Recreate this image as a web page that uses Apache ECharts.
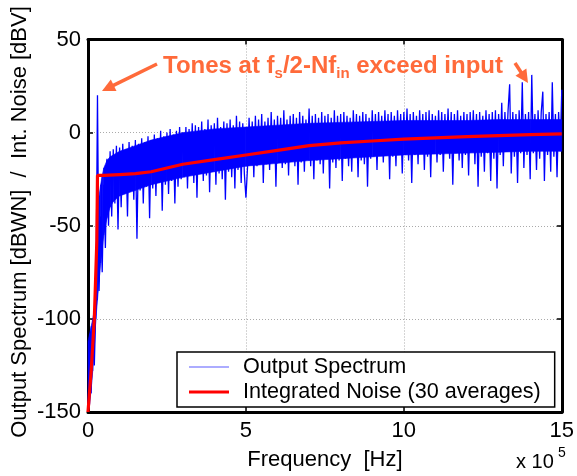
<!DOCTYPE html>
<html><head><meta charset="utf-8">
<script src="https://cdn.jsdelivr.net/npm/echarts@6/dist/echarts.min.js"></script>
<style>html,body{margin:0;padding:0;background:#fff}#c{width:577px;height:476px}</style>
</head><body><div id="c"></div>
<script>
// ---- data (x in units of 1e5 Hz) ----
const binWidth = 0.05; // FFT bin spacing, x10^5 Hz
const spectrumDb = [
  -150, -118, -140, -105, -125, -92, 20, -85, -45, -75, -28, -62, -14, -50, -10, -45, -9, -38, -7, -52, -8,
  -40, -6, -33, -9, -45, -5, -30, -7, -36, -4, -57, -6, -31, -3, -38, -5, -29, -2, -46, -4,
  -30, -1, -34, -3, -27, 1, -42, -2, -28, 0, -33, 2, -26, -1, -38, 1, -29, 3, -25, 0,
  -24, 3, -30, 2, -22, 5, -27, 4, -35, 3, -21, 6, -26, 2, -23, 7, -32, 4, -20, 5,
  -28, 8, -22, 3, -25, 6, -36, 5, -21, 7, -24, 4, -30, 9, -20, 6, -27, 5, -22, -35,
  -19, 8, -16, 6, -24, 9, -18, 7, -15, 10, -27, 6, -17, 8, -20, 11, -16, 7, -29, 9,
  -14, 8, -19, 12, -17, 7, -23, 9, -15, 10, -18, 8, -28, 11, -16, 9, -21, 7, -14, 13,
  -18, 9, -25, 10, -15, 8, -17, 11, -22, 9, -14, 10, -30, 8, -16, 12, -19, 9, -15, 10,
  -26, 11, -14, 9, -18, 8, -21, 12, -13, 10, -24, 9, -15, 11, -17, 10, -29, 8, -14, 12,
  -13, 10, -20, 11, -12, 9, -16, 12, -11, 10, -25, 11, -13, 9, -18, 12, -11, 10, -22, 11,
  -12, 13, -15, 10, -27, 11, -12, 9, -17, 12, -11, 10, -20, 11, -13, 12, -24, 10, -11, 9,
  -16, 12, -12, 11, -21, 10, -10, 13, -14, 11, -28, 10, -11, 12, -15, 9, -19, 11, -12, 10,
  -23, 11, -10, 12, -17, 10, -29, 11, -13, 9, -21, 12, -11, 10, -26, 11, -14, 12, -30, 10,
  -12, 16, -18, 11, -10, 12, 26, -22, 11, -13, 10, -27, 12, -11, 27, -19, 10, -12, 11, -25,
  31, -11, 10, -20, 12, -14, 11, 22, -26, 10, -12, 11, -21, 27, -13, 10, -24, 11, -10, 23
];
// dense body of the noise band (where the FFT bins overlap into a solid band)
const bandFreq   = [0, 0.05, 0.1, 0.15, 0.2, 0.25, 0.3, 0.35, 0.4, 0.45, 0.5, 0.6, 0.7, 0.8, 1.0, 1.5, 2.0, 2.5, 3.0, 4.0, 5.0, 6.0, 7.0, 8.0, 9.0, 10.0, 11.0, 12.0, 13.0, 14.0, 15.0];
const bandTop    = [-112, -108, -104, -100, -95, -88, -60, -34, -28, -23, -19, -15, -13, -12, -10, -7, -4, -2, 0, 2, 3, 4, 5, 5.5, 6, 6.5, 6.5, 6.5, 7, 7, 7];
const bandBottom = [-150, -146, -138, -128, -115, -100, -90, -80, -70, -62, -55, -46, -40, -37, -34, -31, -28, -26, -24, -21, -18, -16.5, -15, -14, -13, -12, -11.5, -11, -10.5, -10, -10];
const integFreq = [0, 0.1, 0.2, 0.28, 0.3, 0.5, 1.0, 1.5, 2.0, 2.5, 3.0, 4.0, 5.0, 6.0, 7.0, 8.0, 9.0, 10.0, 11.0, 12.0, 13.0, 14.0, 15.0];
const integDb   = [-150, -128, -100, -58, -23, -23, -22.5, -22, -21, -19, -17, -14.5, -12, -9.5, -7, -5.5, -4.5, -3.5, -2.8, -2.2, -1.6, -1.1, -0.7];
const xTickLabels = ['0', '5', '10', '15'];
const yTickLabels = ['-150', '-100', '-50', '0', '50'];
const seriesNames = ['Output Spectrum', 'Integrated Noise (30 averages)'];

// ---- chart ----
const FONT = 'Liberation Sans, Arial, sans-serif';
const ORANGE = '#ff6a3a';
const BLUE = '#0000ff';
const chart = echarts.init(document.getElementById('c'), null, {renderer: 'canvas'});

const specData = spectrumDb.map((v, i) => [i * binWidth, v]);
const bandSegs = [];
for (let i = 0; i + 1 < bandFreq.length; i++) {
  bandSegs.push([bandFreq[i], bandTop[i], bandBottom[i], bandFreq[i + 1], bandTop[i + 1], bandBottom[i + 1]]);
}
const integData = integFreq.map((f, i) => [f, integDb[i]]);

function arrow(x1, y1, x2, y2) {
  const dx = x2 - x1, dy = y2 - y1, L = Math.hypot(dx, dy);
  const ux = dx / L, uy = dy / L, hl = 13, hw = 6.5;
  const bx = x2 - ux * hl, by = y2 - uy * hl;
  return [
    {type: 'line', shape: {x1, y1, x2: bx + ux * 2, y2: by + uy * 2}, style: {stroke: ORANGE, lineWidth: 3.5}, z: 100},
    {type: 'polygon', shape: {points: [[x2, y2], [bx - uy * hw, by + ux * hw], [bx + uy * hw, by - ux * hw]]}, style: {fill: ORANGE}, z: 100}
  ];
}

const axisCommon = {
  type: 'value', min: 0, max: 15, interval: 5,
  axisLine: {show: true, onZero: false, lineStyle: {color: '#000', width: 3}},
  axisTick: {show: true, inside: true, length: 5, lineStyle: {color: '#000', width: 1.5}},
};

chart.setOption({
  animation: false,
  backgroundColor: '#fff',
  grid: {left: 88, right: 13.5, top: 39.5, bottom: 63.5, containLabel: false},
  xAxis: [
    Object.assign({}, axisCommon, {
      position: 'bottom',
      axisLabel: {show: true, fontSize: 22, fontFamily: FONT, color: '#000', margin: 8,
        formatter: v => xTickLabels[Math.round(v / 5)]},
      splitLine: {show: true, lineStyle: {color: '#aaa', type: [1, 2], width: 1}},
      name: 'Frequency  [Hz]', nameLocation: 'middle', nameGap: 37,
      nameTextStyle: {fontSize: 22, fontFamily: FONT, color: '#000'}
    }),
    Object.assign({}, axisCommon, {position: 'top', axisLabel: {show: false}, splitLine: {show: false}})
  ],
  yAxis: [
    Object.assign({}, axisCommon, {
      min: -150, max: 50, interval: 50, position: 'left',
      axisLabel: {show: true, fontSize: 22, fontFamily: FONT, color: '#000', margin: 7,
        formatter: v => yTickLabels[Math.round((v + 150) / 50)]},
      splitLine: {show: true, lineStyle: {color: '#aaa', type: [1, 2], width: 1}}
    }),
    Object.assign({}, axisCommon, {min: -150, max: 50, interval: 50, position: 'right',
      axisLabel: {show: false}, splitLine: {show: false}})
  ],
  legend: {
    orient: 'vertical', left: 177, top: 352,
    itemWidth: 40, itemHeight: 3, itemGap: 3,
    padding: [4, 14, 4, 12],
    borderColor: '#000', borderWidth: 1.5, backgroundColor: '#fff',
    textStyle: {fontSize: 21.6, fontFamily: FONT, color: '#000', lineHeight: 22, padding: [0, 0, 0, 9]},
    data: [
      {name: seriesNames[0], icon: 'path://M0,0H0.01V0.01H0Z M0,1H40V2H0Z M39.99,2.99H40V3H39.99Z', itemStyle: {color: '#5a5aff'}},
      {name: seriesNames[1], icon: 'rect', itemStyle: {color: '#ff0000'}}
    ]
  },
  series: [
    {name: 'band', type: 'custom', data: bandSegs, silent: true, z: 1,
      encode: {x: [0, 3], y: [1, 2, 4, 5]},
      renderItem: (params, api) => {
        const a = api.coord([api.value(0), api.value(1)]);
        const b = api.coord([api.value(3), api.value(4)]);
        const c = api.coord([api.value(3), api.value(5)]);
        const d = api.coord([api.value(0), api.value(2)]);
        return {type: 'polygon', shape: {points: [a, b, c, d]}, style: {fill: BLUE, stroke: BLUE, lineWidth: 0.6}};
      }},
    {name: seriesNames[0], type: 'line', data: specData, symbol: 'none', showSymbol: false,
      lineStyle: {color: BLUE, width: 1.3}, itemStyle: {color: BLUE}, z: 2},
    {name: seriesNames[1], type: 'line', data: integData, symbol: 'none', showSymbol: false,
      lineStyle: {color: '#ff0000', width: 3.2}, itemStyle: {color: '#ff0000'}, z: 3}
  ],
  graphic: [
    {type: 'text', x: 20, y: 222, rotation: Math.PI / 2,
      style: {text: 'Output Spectrum [dBWN]  /  Int. Noise [dBV]', font: '22px ' + FONT, fill: '#000',
        align: 'center', verticalAlign: 'middle'}},
    {type: 'text', x: 516, y: 452, style: {text: 'x 10', font: '20px ' + FONT, fill: '#000', verticalAlign: 'top'}},
    {type: 'text', x: 558, y: 446, style: {text: '5', font: '14px ' + FONT, fill: '#000', verticalAlign: 'top'}},
    {type: 'text', x: 163, y: 51, z: 100,
      style: {text: 'Tones at f{sub|s}/2-Nf{sub|in} exceed input', fill: ORANGE,
        font: 'bold 24px ' + FONT, verticalAlign: 'top', lineHeight: 30,
        rich: {sub: {fontSize: 15, fontWeight: 'bold', fontFamily: FONT, fill: ORANGE, color: ORANGE,
          verticalAlign: 'bottom', lineHeight: 30}}}},
    ...arrow(157, 64, 102, 91),
    ...arrow(515, 63, 528, 83)
  ]
});
</script></body></html>
